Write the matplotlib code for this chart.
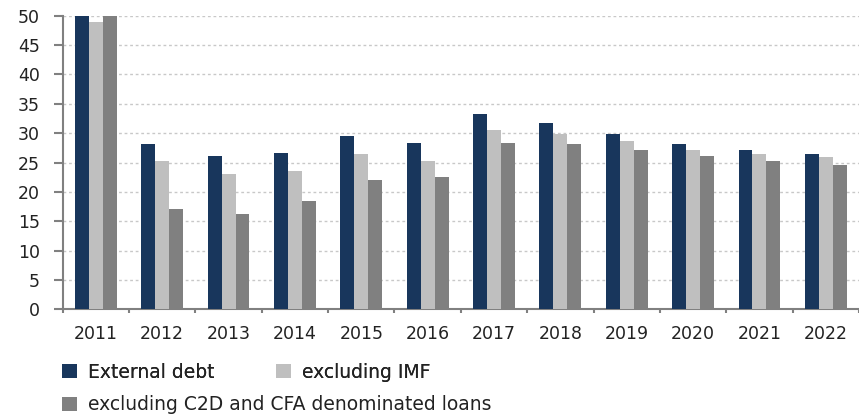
import matplotlib
matplotlib.use("Agg")
import matplotlib.pyplot as plt
import numpy as np
from matplotlib.patches import Patch

years = ["2011", "2012", "2013", "2014", "2015", "2016", "2017", "2018", "2019", "2020", "2021", "2022"]
external_debt = [50.5, 28.2, 26.1, 26.6, 29.5, 28.3, 33.2, 31.7, 29.9, 28.1, 27.1, 26.4]
excl_imf = [49.0, 25.3, 23.1, 23.6, 26.4, 25.3, 30.6, 29.9, 28.6, 27.1, 26.4, 25.9]
excl_c2d_cfa = [50.5, 17.1, 16.3, 18.4, 22.1, 22.6, 28.3, 28.1, 27.1, 26.1, 25.3, 24.6]
series_names = ["External debt", "excluding IMF", "excluding C2D and CFA denominated loans"]
colors = ["#18365C", "#BFBFBF", "#808080"]

plt.rcParams['font.family'] = ['DejaVu Sans']
W, H = 859, 416
fig = plt.figure(figsize=(W / 100, H / 100), dpi=100)
ax = fig.add_axes([62.7 / W, (H - 309.3) / H, (W - 62.7) / W, (309.3 - 15.7) / H])

x = np.arange(len(years))
bw = 0.21
for i, (vals, c) in enumerate(zip([external_debt, excl_imf, excl_c2d_cfa], colors)):
    ax.bar(x + (i - 1) * bw, vals, width=bw, color=c, zorder=3, label=series_names[i])

ax.set_ylim(0, 50)
ax.set_xlim(-0.5, -0.5 + (W - 62.7) / 66.9)
ax.set_yticks(np.arange(0, 51, 5))
ax.yaxis.grid(True, linestyle=(0, (2, 2)), color="#C8C8C8", linewidth=1.0, zorder=0)
ax.set_axisbelow(True)

ax.set_xticks(np.arange(-0.5, len(years), 1.0))
ax.set_xticklabels([])
ax.set_xticks(x, minor=True)
ax.set_xticklabels(years, minor=True)
ax.tick_params(axis="x", which="major", length=3, width=1.5, color="#808080", direction="out")
ax.tick_params(axis="x", which="minor", length=0, pad=11, labelsize=12.5, labelcolor="#222222")
ax.tick_params(axis="y", length=6.5, width=1.5, color="#808080", pad=10, labelsize=12.5, labelcolor="#222222")

for s in ["top", "right"]:
    ax.spines[s].set_visible(False)
for s in ["left", "bottom"]:
    ax.spines[s].set_color("#808080")
    ax.spines[s].set_linewidth(1.5)

fs = 13.5
handles = [Patch(facecolor=c, edgecolor="none") for c in colors]
leg1 = fig.legend(handles[:2], series_names[:2], loc="center left",
                  bbox_to_anchor=(62 / W, 1 - 372 / H), ncol=2, frameon=False,
                  fontsize=fs, handlelength=0.78, handleheight=0.78, handletextpad=0.6,
                  columnspacing=3.3, borderpad=0, borderaxespad=0, labelcolor="#222222")
leg2 = fig.legend(handles[2:], series_names[2:], loc="center left",
                  bbox_to_anchor=(62 / W, 1 - 405 / H), ncol=1, frameon=False,
                  fontsize=fs, handlelength=0.78, handleheight=0.78, handletextpad=0.6,
                  borderpad=0, borderaxespad=0, labelcolor="#222222")
fig.add_artist(leg1)

fig.savefig("out.png", dpi=100)
